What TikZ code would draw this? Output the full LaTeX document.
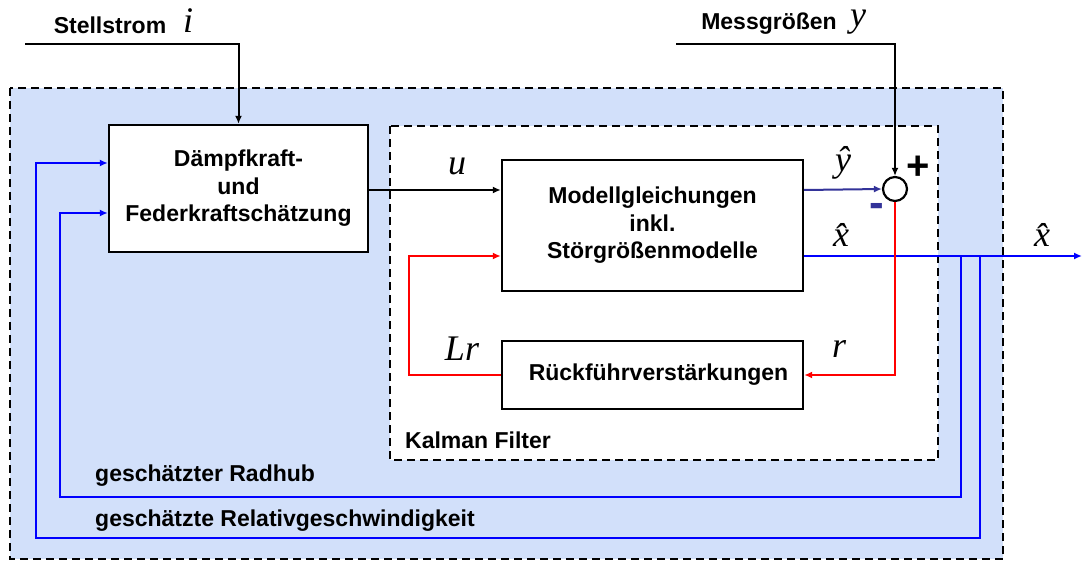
\documentclass[tikz,border=0pt]{standalone}
\usepackage{fontspec}
\setmainfont{Liberation Sans}
\newfontfamily\symfont{Liberation Serif}
\usetikzlibrary{arrows.meta}

\definecolor{panelblue}{RGB}{210,224,250}
\definecolor{navyline}{RGB}{51,51,153}
\definecolor{sigblue}{RGB}{0,0,255}
\definecolor{sigred}{RGB}{255,0,0}

\tikzset{
  blockbox/.style={draw=black, line width=2.4pt, fill=white, align=center,
    font=\bfseries\fontsize{23}{27.5}\selectfont, inner sep=0pt},
  lbl/.style={font=\bfseries\fontsize{23}{26}\selectfont, inner sep=0pt},
  var/.style={font=\symfont\itshape\fontsize{36}{40}\selectfont, inner sep=0pt},
  tip/.style={-{Latex[length=8pt,width=7pt]}},
  sig/.style={line width=2pt, black},
  fb/.style={line width=2.5pt, sigblue},
  corr/.style={line width=2.5pt, sigred},
}

\begin{document}
\begin{tikzpicture}[x=1pt,y=-1pt]
  \useasboundingbox (0,0) rectangle (1082,561);

  % estimator frame and Kalman filter frame
  \draw[line width=1.6pt, dash pattern=on 8pt off 5pt, fill=panelblue]
    (10,88) rectangle (1003,559);
  \draw[line width=1.6pt, dash pattern=on 8pt off 5pt, fill=white]
    (390,126) rectangle (938,460);

  % blocks
  \node[blockbox, minimum width=259pt, minimum height=127pt] (dampf) at (238.5,188.5)
    {Dämpfkraft-\\und\\Federkraftschätzung};
  \node[blockbox, minimum width=301pt, minimum height=131pt] (model) at (652.5,225.5)
    {Modellgleichungen\\inkl.\\Störgrößenmodelle};
  \node[blockbox, minimum width=301pt, minimum height=68pt] (rueck) at (652.5,375)
    {\hspace{12pt}Rückführverstärkungen};
  \node[draw=black, line width=2.2pt, circle, minimum size=24pt, inner sep=0pt, fill=white]
    (sum) at (895,189) {};

  % inputs
  \coordinate (iin) at (25,44);
  \coordinate (yin) at (676,44);
  \draw[sig, tip] (iin) -| (dampf.north);
  \draw[sig, tip] (yin) -| (sum.north);

  % u and y-hat
  \draw[sig, tip] (dampf.east |- 0,190) -- (model.west |- 0,190);
  \draw[line width=2pt, navyline, tip] (model.east |- 0,190) -- (sum.west);

  % state estimate output
  \coordinate (xout) at (1082,256);
  \coordinate (tapA) at (961,256);
  \coordinate (tapB) at (980,256);
  \draw[fb, tip] (model.east |- 0,256) -- (xout);

  % innovation and correction loop
  \coordinate (rcorner) at (895,375);
  \coordinate (lcornerA) at (409,375);
  \coordinate (lcornerB) at (409,256);
  \draw[corr, tip] (sum.south) -- (rcorner) -- (rueck.east);
  \draw[corr, tip] (rueck.west) -- (lcornerA) -- (lcornerB) -- (model.west |- 0,256);

  % fed-back estimates
  \draw[fb, tip] (tapA) -- (961,497) -| (60,213) -- (dampf.west |- 0,213);
  \draw[fb, tip] (tapB) -- (980,538) -| (36,163) -- (dampf.west |- 0,163);

  % labels
  \node[lbl] (lstell) at (110,25) {Stellstrom};
  \node[var] (li) at (188,21) {i};
  \node[lbl] (lmess) at (769,24) {Messgrößen};
  \node[var] (ly) at (858,22) {y};
  \node[var] (lu) at (457,166) {u};
  \node[var] (lyhat) at (843,163) {\^{y}};
  \node[var] (lxhat) at (841,235) {\^{x}};
  \node[var] (lxhat2) at (1042,235) {\^{x}};
  \node[var] (lr) at (839,349) {r};
  \node[var] (lLr) at (462,349) {Lr};
  \node[font=\bfseries\fontsize{40}{40}\selectfont, inner sep=0pt] (lplus) at (918,168) {+};
  \node[font=\bfseries\fontsize{44}{44}\selectfont, inner sep=0pt, text=navyline] (lminus) at (877,210) {-};
  \node[lbl, anchor=west] (lkal) at (405,440) {Kalman Filter};
  \node[lbl, anchor=west] (lrad) at (95,476) {geschätzter Radhub};
  \node[lbl, anchor=west] (lrel) at (95,521) {geschätzte Relativgeschwindigkeit};
\end{tikzpicture}
\end{document}
